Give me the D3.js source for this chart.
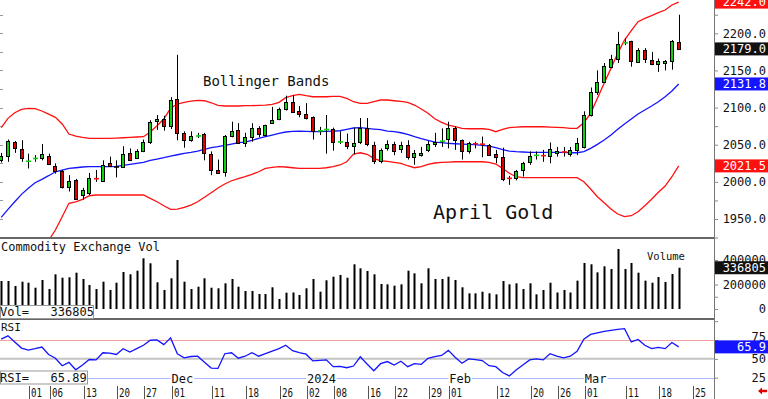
<!DOCTYPE html>
<html>
<head>
<meta charset="utf-8">
<script src="https://cdn.jsdelivr.net/npm/d3@7"></script>
<style>
html, body { margin: 0; padding: 0; background: #fff; overflow: hidden; }
svg { display: block; }
text { font-family: "DejaVu Sans Mono", monospace; }
</style>
</head>
<body>
<svg width="768" height="399"></svg>
<script>
// daily bars, 26 Oct 2023 .. 21 Mar 2024 (index = trading day)
const open = [2030,2035,2053,2044,2027.5,2031,2032,2035,2022,2014,
  1993,2003,1982,1985,2004.5,2002,2026,2020,2020,2039,
  2033,2042,2054,2081,2084,2075,2112,2066,2056,2061.5,
  2064,2038,2016,2013,2062,2070,2052,2060,2072,2063,
  2079,2084,2098,2107,2095,2091,2087,2068.5,2070,2071,
  2053.5,2054,2048,2053,2072,2050,2028,2045,2051,2043,
  2049,2034,2036,2043,2051,2054.5,2057,2072,2056,2041,
  2051.5,2051,2050,2037,2033,2005,2005,2015,2027,2035.5,
  2035.5,2034,2039,2040.5,2038,2042,2047,2090,2121,2135,
  2155,2165,2187,2189,2162,2177.5,2164,2159,2160,2162,
  2188];
const high = [2039,2057,2055,2056,2038,2036,2051,2038,2025,2016,
  2009,2004,1992,2012,2016,2029,2034,2029,2048,2045,
  2044,2057,2083,2090,2089,2114,2171,2068,2068,2066,
  2066,2041,2030,2063,2081,2079,2066,2079,2075,2077,
  2101,2100,2116,2117,2102,2106,2088,2074,2090,2073,
  2068,2065,2073,2086,2086,2054,2045,2056,2054,2054,
  2056,2043,2047,2055,2066,2072,2081,2075,2057,2054,
  2054,2061,2051,2043,2046,2008,2016,2027,2041,2041,
  2043,2053,2047,2047,2047,2059,2095,2127,2150,2160,
  2171,2202,2193,2190,2180,2180,2175,2166,2164,2191,
  2225];
const low = [2026,2027,2039,2027,2018,2027,2029,2023,2011,1991,
  1987,1976,1976,1982,2000,2000,2020,2006,2019,2028,
  2031,2040,2051,2070,2069,2071,2056,2046,2054,2059,
  2029,2009,2011,2007,2060,2051,2047,2054,2060,2061,
  2078,2083,2096,2093,2087,2084,2057,2063,2038,2042,
  2051,2044,2037,2051,2048,2024,2025,2042,2036,2039,
  2030,2023,2034,2040,2047,2047,2045,2043,2030,2038,
  2045,2033,2035,2025,2001,1996,2002,2007,2023,2030,
  2027,2025,2034,2034,2034,2036,2045,2088,2117,2133,
  2153,2160,2184,2155,2160,2160,2157,2148,2150,2151,
  2177.5];
const close = [2035,2055,2045,2032,2028,2032,2038,2024,2015,1993,
  2001,1978,1989,2005,2004,2023,2022,2020,2038,2030,
  2042,2054,2081,2084,2074,2110,2066,2056,2062,2062,
  2039,2016,2012,2062,2069,2053,2060,2072,2064,2076,
  2083,2098,2108,2094,2091,2086,2068,2069,2071,2054,
  2054,2049,2052,2072,2051,2028,2043,2051,2042,2049,
  2033,2039,2039,2051,2054,2055,2072,2056,2041,2052,
  2051,2050.5,2037,2033,2003,2004.5,2015,2025,2035,2036,
  2035,2044,2042,2040,2043,2052,2090,2121,2135,2156,
  2166,2185,2187.5,2162,2177.5,2165,2159,2163,2163,2189,
  2179];
const bbUpper = [2072.9,2085.5,2093.1,2097.6,2099.0,2098.5,2095.4,2091.3,2086.9,2077.9,
  2064.4,2061.7,2060.0,2058.6,2058.6,2058.6,2058.6,2059.0,2059.4,2060.0,
  2060.4,2060.8,2067.1,2075.6,2084.6,2099.0,2104.8,2107.1,2108.8,2109.8,
  2109.2,2106.5,2103.0,2102.1,2102.1,2102.1,2102.5,2102.5,2103.0,2103.4,
  2104.4,2107.1,2113.3,2116.0,2117.8,2116.0,2114.6,2114.6,2114.6,2115.1,
  2115.1,2112.5,2107.9,2105.7,2105.7,2107.9,2110.2,2110.2,2109.2,2108.4,
  2107.1,2103.4,2098.1,2092.3,2085.0,2080.1,2076.5,2074.2,2072.1,2071.5,
  2071.5,2071.5,2070.7,2067.5,2070.7,2072.9,2073.8,2074.2,2074.2,2074.2,
  2074.2,2073.8,2073.4,2072.9,2072.1,2072.1,2079.6,2092.3,2112.5,2132.7,
  2152.8,2173.0,2190.9,2203.5,2215.6,2220.2,2223.7,2227.7,2231.3,2238.1,
  2242.0];
const bbMid = [1952.2,1963.0,1973.2,1983.2,1991.3,1998.8,2003.4,2008.3,2013.6,2015.9,
  2018.2,2019.0,2020.0,2020.4,2020.4,2020.4,2020.4,2020.9,2022.3,2023.6,
  2024.9,2026.3,2029.0,2030.7,2032.5,2034.8,2036.5,2038.4,2039.8,2041.5,
  2043.8,2046.0,2047.3,2049.2,2050.9,2052.7,2053.6,2055.9,2058.6,2060.8,
  2063.0,2065.3,2067.1,2068.0,2068.4,2068.0,2067.5,2067.5,2068.0,2068.4,
  2068.8,2070.7,2072.5,2072.9,2072.1,2071.1,2070.2,2068.4,2067.5,2066.1,
  2064.0,2060.8,2058.1,2055.9,2053.6,2052.7,2051.9,2051.3,2050.9,2050.5,
  2050.0,2049.2,2048.2,2046.0,2043.3,2041.5,2040.6,2040.2,2039.8,2039.8,
  2039.8,2039.8,2039.8,2039.8,2039.2,2039.2,2040.6,2045.1,2050.5,2056.3,
  2063.0,2070.7,2077.9,2084.6,2091.3,2096.7,2102.1,2107.9,2114.6,2122.3,
  2131.8];
const bbLower = [1831,1841,1853,1869,1883,1899,1911,1921,1935.2,1953.1,
  1971.1,1973.2,1976.5,1981.3,1982.3,1982.3,1982.3,1982.3,1982.3,1982.3,
  1982.3,1982.3,1977.8,1973.2,1967.9,1963.0,1963.4,1965.7,1968.8,1973.2,
  1979.2,1985.4,1991.7,1997.1,2001.5,2004.2,2006.9,2010.1,2013.6,2018.2,
  2019.6,2020.4,2020.0,2019.0,2018.2,2018.2,2018.2,2018.2,2019.0,2020.4,
  2022.7,2027.1,2037.5,2039.2,2037.1,2031.7,2028.4,2027.6,2026.3,2024.9,
  2021.7,2019.0,2020.4,2023.6,2025.4,2026.3,2026.7,2027.1,2027.1,2027.1,
  2027.1,2027.1,2026.3,2024.0,2018.2,2011.5,2006.9,2005.6,2005.6,2005.6,
  2005.6,2005.6,2005.6,2005.6,2005.6,2005.6,2000.2,1990.3,1980.0,1971.9,
  1963.4,1956.7,1953.1,1954.4,1959.8,1967.9,1976.5,1985.9,1994.4,2006.9,
  2021.5];
const volume = [228600,228600,187800,222900,214700,173900,236700,163300,283300,255500,
  258800,296300,244900,195900,163300,222900,155100,214700,302000,283300,
  312700,413900,373100,218000,155100,250600,400000,222900,163300,182000,
  250600,173900,169000,209800,244900,182000,146900,146900,122400,122400,
  177100,81600,133100,134700,114300,169000,244900,141200,234300,263700,
  277600,255500,364900,332200,310200,283300,204100,201400,190500,201400,
  312700,291200,209800,332200,244900,244900,263700,236700,177100,127900,
  127900,141200,127900,119700,228600,201400,209800,163300,209800,119700,
  155100,214700,134700,155100,134700,231300,375500,364900,299200,348300,
  326500,489800,326500,375500,296300,231300,214700,261200,220400,285700,
  336805];
const rsi = [76.1,80.5,72.4,64.3,61.6,63.5,65.7,55.8,50.8,40.9,
  45.4,35.5,41.9,49.1,48.6,58.1,57.6,55.8,63.5,58.9,
  63.5,68.0,74.7,75.1,68.9,77.8,56.8,51.4,53.1,53.5,
  45.4,37.8,37.3,56.8,58.1,50.8,53.5,58.1,53.5,56.8,
  60.3,63.5,68.0,60.8,58.1,56.2,47.3,48.1,48.6,39.6,
  40.0,38.2,40.5,52.7,43.2,34.2,43.6,46.4,41.9,46.8,
  39.6,43.6,42.7,50.8,53.1,54.5,61.2,52.2,44.1,50.0,
  49.1,47.7,40.9,39.6,31.9,27.4,35.1,41.9,48.6,50.0,
  48.6,56.8,53.5,51.4,53.5,59.9,76.1,82.4,84.6,86.5,
  87.8,89.2,90.0,72.4,75.7,68.0,63.5,65.3,63.5,71.6,
  65.89];

// date axis: trading-day index -> label
const dayTickIdx = [4,7,12,17,21,25,31,36,41,45,49,54,58,63,66,73,78,82,86,92,97,102];
const dayTickLabels = ["01","06","13","20","27","01","11","18","26","02","08","16","22","29","01","12","20","26","01","11","18","25"];
const monthIdx = [25,45,66,86];
const monthLabels = ["Dec","2024","Feb","Mar"];
const priceTicks = [1950,2000,2050,2100,2150,2200];
const volTicks = [0,200000,400000];
const rsiTicks = [25,50,75];

const svg = d3.select("svg");
const PX = 714;   // right edge of the plotting area

const x = d3.scaleLinear().domain([0, 100]).range([1.2, 678.7]);
const yP = d3.scaleLinear().domain([1950, 2200]).range([219, 33.3]);
const yV = d3.scaleLinear().domain([0, 400000]).range([309, 260]);
const yR = d3.scaleLinear().domain([25, 75]).range([377.7, 340]);

const RED = "#ff1010", BLUE = "#1414ff", GREEN = "#10d010";
const cx = i => Math.round(x(i));

const defs = svg.append("defs");
function clip(id, y, h) {
    defs.append("clipPath").attr("id", id)
        .append("rect").attr("x", 0).attr("y", y).attr("width", PX).attr("height", h);
}
clip("cMain", 0, 237);
clip("cVol", 239, 79);
clip("cRsi", 320, 57);

// ---------- main price panel ----------
const gMain = svg.append("g").attr("clip-path", "url(#cMain)");

// little ticks on the left edge
gMain.selectAll("line.lt").data(d3.range(1925, 2250, 25)).enter().append("line")
    .attr("x1", 0).attr("x2", 3)
    .attr("y1", d => Math.round(yP(d)) + 0.5).attr("y2", d => Math.round(yP(d)) + 0.5)
    .attr("stroke", "#999");

const idx = d3.range(close.length);
function band(arr, col) {
    gMain.append("path")
        .datum(idx)
        .attr("fill", "none")
        .attr("stroke", col)
        .attr("stroke-width", 1.3)
        .attr("d", d3.line().x(i => x(i)).y(i => yP(arr[i])));
}
band(bbUpper, RED);
band(bbLower, RED);
band(bbMid, BLUE);

gMain.selectAll("line.wick").data(idx).enter().append("line")
    .attr("x1", i => cx(i) + 0.5).attr("x2", i => cx(i) + 0.5)
    .attr("y1", i => yP(high[i])).attr("y2", i => yP(low[i]))
    .attr("stroke", "#000");

const isDoji = i => Math.abs(close[i] - open[i]) < 1.2;

gMain.selectAll("rect.body").data(idx.filter(i => !isDoji(i))).enter().append("rect")
    .attr("x", i => cx(i) - 1.5)
    .attr("width", 3)
    .attr("y", i => Math.round(yP(Math.max(open[i], close[i]))) + 0.5)
    .attr("height", i => Math.max(1, Math.round(yP(Math.min(open[i], close[i])) - yP(Math.max(open[i], close[i])))))
    .attr("fill", i => close[i] > open[i] ? GREEN : "#e00000")
    .attr("stroke", "#000");

gMain.selectAll("line.doji").data(idx.filter(isDoji)).enter().append("line")
    .attr("x1", i => cx(i) - 2).attr("x2", i => cx(i) + 3)
    .attr("y1", i => yP((open[i] + close[i]) / 2)).attr("y2", i => yP((open[i] + close[i]) / 2))
    .attr("stroke", i => close[i] > open[i] ? GREEN : (close[i] < open[i] ? RED : "#000"))
    .attr("stroke-width", 1.6);

svg.append("text").attr("x", 203).attr("y", 86)
    .attr("font-size", 14).attr("fill", "#111").text("Bollinger Bands");
svg.append("text").attr("x", 433).attr("y", 219)
    .attr("font-size", 20).attr("fill", "#111").text("April Gold");

// ---------- volume panel ----------
const gVol = svg.append("g").attr("clip-path", "url(#cVol)");
gVol.selectAll("rect.vol").data(idx).enter().append("rect")
    .attr("x", i => cx(i) - 0.5)
    .attr("width", 2)
    .attr("y", i => yV(volume[i]))
    .attr("height", i => yV(0) - yV(volume[i]))
    .attr("fill", "#000");

svg.append("text").attr("x", 1).attr("y", 251).attr("font-size", 12).attr("fill", "#111")
    .text("Commodity Exchange Vol");
svg.append("text").attr("x", 647).attr("y", 260).attr("font-size", 10.5).attr("fill", "#111")
    .text("Volume");

// ---------- RSI panel ----------
const gRsi = svg.append("g").attr("clip-path", "url(#cRsi)");
gRsi.append("line").attr("x1", 0).attr("x2", PX)
    .attr("y1", Math.round(yR(75)) + 0.5).attr("y2", Math.round(yR(75)) + 0.5)
    .attr("stroke", "#f4a0a0");
gRsi.append("line").attr("x1", 0).attr("x2", PX)
    .attr("y1", yR(50)).attr("y2", yR(50))
    .attr("stroke", "#c4c4c4").attr("stroke-width", 2);
gRsi.append("path")
    .datum(idx)
    .attr("fill", "none")
    .attr("stroke", BLUE)
    .attr("stroke-width", 1.3)
    .attr("d", d3.line().x(i => x(i)).y(i => yR(rsi[i])));
svg.append("text").attr("x", 1).attr("y", 331).attr("font-size", 11).attr("fill", "#111").text("RSI");

// month line along the bottom of the RSI panel
const yM = Math.round(yR(25)) + 0.5;
svg.append("line").attr("x1", 0).attr("x2", PX).attr("y1", yM).attr("y2", yM)
    .attr("stroke", "#aab8ff");
monthIdx.forEach((m, k) => {
    const tx = x(m) + 1;
    const w = monthLabels[k].length * 7.22;
    svg.append("rect").attr("x", tx - 1).attr("y", yM - 6).attr("width", w + 2).attr("height", 12).attr("fill", "#fff");
    svg.append("text").attr("x", tx).attr("y", yM + 4.5).attr("font-size", 12).attr("fill", "#111")
        .text(monthLabels[k]);
});

// ---------- panel separators & right axis line ----------
[238, 319].forEach(y => {
    svg.append("line").attr("x1", 0).attr("x2", PX).attr("y1", y).attr("y2", y)
        .attr("stroke", "#333").attr("stroke-width", 1.6);
});
svg.append("line").attr("x1", PX + 0.5).attr("x2", PX + 0.5).attr("y1", 0).attr("y2", 399)
    .attr("stroke", "#777");

// ---------- left value boxes ----------
function infoBox(y, w, label) {
    svg.append("rect").attr("x", 0.5).attr("y", y + 0.5).attr("width", w).attr("height", 13)
        .attr("fill", "#fff").attr("stroke", "#999");
    svg.append("text").attr("x", 0).attr("y", y + 11).attr("font-size", 12).attr("fill", "#111")
        .attr("xml:space", "preserve").text(label);
}
infoBox(305, 93, "Vol=   " + volume[volume.length - 1]);
infoBox(370.5, 87, "RSI=   " + rsi[rsi.length - 1].toFixed(2));

// ---------- right axes ----------
function rightAxis(scale, ticks, fmt, minor) {
    const g = svg.append("g").attr("transform", `translate(${PX},0)`)
        .call(d3.axisRight(scale).tickValues(minor).tickSize(4).tickFormat(""));
    g.select(".domain").remove();
    g.selectAll("line").attr("stroke", "#888");
    const g2 = svg.append("g").attr("transform", `translate(${PX},0)`)
        .call(d3.axisRight(scale).tickValues(ticks).tickSize(0).tickPadding(0).tickFormat(fmt));
    g2.select(".domain").remove();
    g2.selectAll("text")
        .attr("x", 52).attr("text-anchor", "end")
        .attr("font-family", "DejaVu Sans Mono, monospace")
        .attr("font-size", 12).attr("fill", "#111");
    return g2;
}
rightAxis(yP, priceTicks, d3.format(".1f"), d3.range(1925, 2250, 25));
rightAxis(yV, volTicks, d3.format("d"), d3.range(0, 500000, 100000));
const ra = rightAxis(yR, rsiTicks, d3.format("d"), [25, 50, 75, 100]);
ra.selectAll(".tick").filter(d => d === 75).select("text").attr("dy", "0.05em");

function valueBox(y, bg, label) {
    svg.append("rect").attr("x", PX + 1).attr("y", y - 6.5).attr("width", 768 - PX).attr("height", 13)
        .attr("fill", bg);
    svg.append("text").attr("x", 766).attr("y", y + 4.3).attr("text-anchor", "end")
        .attr("font-size", 12).attr("fill", "#fff").text(label);
}
const last = close.length - 1;
valueBox(yP(bbUpper[last]), RED, bbUpper[last].toFixed(1));
valueBox(yP(close[last]), "#111", close[last].toFixed(1));
valueBox(yP(bbMid[last]), BLUE, bbMid[last].toFixed(1));
valueBox(yP(bbLower[last]), RED, bbLower[last].toFixed(1));
valueBox(yV(volume[last]), "#111", String(volume[last]));
valueBox(yR(rsi[last]), BLUE, rsi[last].toFixed(1));

// ---------- date ticks ----------
const gDays = svg.append("g");
dayTickIdx.forEach((d, k) => {
    const tx = Math.round(x(d)) + 1.5;
    gDays.append("line").attr("x1", tx).attr("x2", tx).attr("y1", 386).attr("y2", 399)
        .attr("stroke", "#555");
    gDays.append("text").attr("x", tx + 1.5).attr("y", 396.5)
        .attr("font-family", "Liberation Sans, Arial, sans-serif")
        .attr("font-size", 13).attr("fill", "#111")
        .attr("textLength", 11).attr("lengthAdjust", "spacingAndGlyphs")
        .text(dayTickLabels[k]);
});

// red scroll arrow, bottom right
svg.append("path")
    .attr("d", "M758,391 L762,387.5 L762,389.8 L767,389.8 L767,392.2 L762,392.2 L762,394.5 Z")
    .attr("fill", "#e00000");
</script>
</body>
</html>
